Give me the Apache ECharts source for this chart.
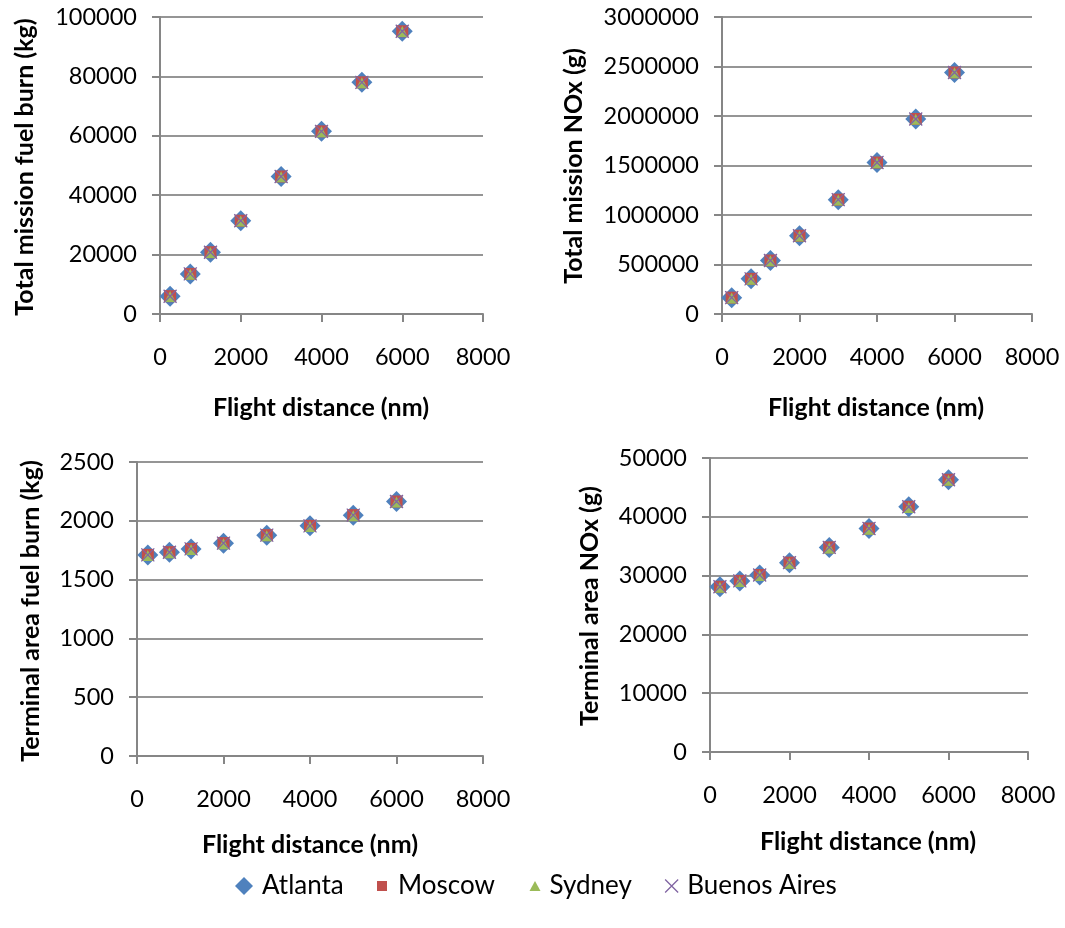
<!DOCTYPE html>
<html>
<head>
<meta charset="utf-8">
<script src="https://cdn.jsdelivr.net/npm/echarts@6/dist/echarts.min.js"></script>
<style>
  html, body { margin: 0; padding: 0; background: #fff; }
  #chart { width: 1065px; height: 928px; }
</style>
</head>
<body>
<div id="chart"></div>
<script>
// Flight distances (nm) shared by every panel
const distances = [250, 750, 1250, 2000, 3000, 4000, 5000, 6000];

// Per-airport results; the four airports sit almost on top of each other
const cities = ['Atlanta', 'Moscow', 'Sydney', 'Buenos Aires'];

const missionFuel = {
  'Atlanta':      [6000, 13500, 20800, 31400, 46300, 61500, 78000, 95200],
  'Moscow':       [6000, 13500, 20800, 31400, 46300, 61500, 78000, 95200],
  'Sydney':       [5900, 13400, 20700, 31300, 46200, 61400, 77900, 95100],
  'Buenos Aires': [6000, 13500, 20800, 31400, 46300, 61500, 78000, 95200]
};
const missionNOx = {
  'Atlanta':      [165000, 355000, 540000, 790000, 1155000, 1530000, 1970000, 2440000],
  'Moscow':       [165000, 355000, 540000, 790000, 1155000, 1530000, 1970000, 2440000],
  'Sydney':       [162000, 352000, 537000, 787000, 1152000, 1527000, 1967000, 2437000],
  'Buenos Aires': [165000, 355000, 540000, 790000, 1155000, 1530000, 1970000, 2440000]
};
const terminalFuel = {
  'Atlanta':      [1710, 1733, 1761, 1810, 1878, 1957, 2048, 2164],
  'Moscow':       [1710, 1733, 1761, 1810, 1878, 1957, 2048, 2164],
  'Sydney':       [1705, 1728, 1756, 1805, 1873, 1952, 2043, 2159],
  'Buenos Aires': [1710, 1733, 1761, 1810, 1878, 1957, 2048, 2164]
};
const terminalNOx = {
  'Atlanta':      [28100, 29100, 30100, 32200, 34800, 38000, 41700, 46300],
  'Moscow':       [28100, 29100, 30100, 32200, 34800, 38000, 41700, 46300],
  'Sydney':       [28000, 29000, 30000, 32100, 34700, 37900, 41600, 46200],
  'Buenos Aires': [28100, 29100, 30100, 32200, 34800, 38000, 41700, 46300]
};

// Axis titles
const yTitles = ['Total mission fuel burn (kg)', 'Total mission NOx (g)',
                 'Terminal area fuel burn (kg)', 'Terminal area NOx (g)'];
const xTitle = 'Flight distance (nm)';

// Y axis ranges [max, interval]
const yRanges = [[100000, 20000], [3000000, 500000], [2500, 500], [50000, 10000]];

const panels = [missionFuel, missionNOx, terminalFuel, terminalNOx];

// Layout of the four plot areas
const grids = [
  { left: 160, top: 17,  width: 323, height: 297 },
  { left: 722, top: 17,  width: 310, height: 297 },
  { left: 137, top: 462, width: 346, height: 294 },
  { left: 710, top: 458, width: 318, height: 294 }
];

const FONT = 'Lato, "Open Sans", sans-serif';
const AXIS_GREY = '#868686';
const GRID_GREY = '#959595';

const colors = {
  'Atlanta': '#4F81BD',
  'Moscow': '#C0504D',
  'Sydney': '#9BBB59',
  'Buenos Aires': '#8064A2'
};
const CROSS = 'path://M0,0L10,10M10,0L0,10';
const symbolFor = {
  'Atlanta':      { symbol: 'diamond',  size: 21 },
  'Moscow':       { symbol: 'rect',     size: 12 },
  'Sydney':       { symbol: 'triangle', size: 11 },
  'Buenos Aires': { symbol: CROSS,      size: 13 }
};

const plain = v => String(v);

const markStyle = city => city === 'Buenos Aires'
  ? { color: 'rgba(0,0,0,0)', borderColor: colors[city], borderWidth: 1.3, opacity: 1 }
  : { color: colors[city], opacity: 1 };

const xAxes = grids.map((g, i) => ({
  type: 'value', gridIndex: i, min: 0, max: 8000, interval: 2000,
  axisLine: { show: true, onZero: false, lineStyle: { color: AXIS_GREY, width: 2 } },
  axisTick: { show: true, length: 8, lineStyle: { color: AXIS_GREY, width: 2 } },
  axisLabel: { color: '#000', fontFamily: FONT, fontSize: 23.5, margin: 31, formatter: plain },
  splitLine: { show: false }
}));

const yAxes = grids.map((g, i) => ({
  type: 'value', gridIndex: i, min: 0, max: yRanges[i][0], interval: yRanges[i][1],
  axisLine: { show: true, onZero: false, lineStyle: { color: AXIS_GREY, width: 2 } },
  axisTick: { show: true, length: 8, lineStyle: { color: AXIS_GREY, width: 2 } },
  axisLabel: { color: '#000', fontFamily: FONT, fontSize: 23.5, margin: 23, formatter: plain },
  splitLine: { show: true, lineStyle: { color: GRID_GREY, width: 2 } }
}));

const series = [];
panels.forEach((panel, p) => {
  cities.forEach((city, c) => {
    const s = symbolFor[city];
    series.push({
      name: city,
      type: 'scatter',
      xAxisIndex: p, yAxisIndex: p,
      symbol: s.symbol,
      symbolSize: s.size,
      z: 2 + c,
      itemStyle: markStyle(city),
      emphasis: { disabled: true },
      data: distances.map((d, k) => [d, panel[city][k]])
    });
  });
});

// Axis titles drawn as text centred on their positions
const yTitlePos = [[25, 167], [574, 166], [31, 611], [590, 606]];
const xTitlePos = [[321, 408], [876, 408], [310, 845], [868, 842]];
const TITLE_FONT = 'bold 25px ' + FONT;
const graphic = [];
yTitles.forEach((t, i) => {
  graphic.push({
    type: 'text', x: yTitlePos[i][0], y: yTitlePos[i][1], rotation: Math.PI / 2,
    style: { text: t, font: TITLE_FONT, fill: '#000',
             textAlign: 'center', textVerticalAlign: 'middle' }
  });
});
xTitlePos.forEach(pos => {
  graphic.push({
    type: 'text', x: pos[0], y: pos[1],
    style: { text: xTitle, font: TITLE_FONT, fill: '#000',
             textAlign: 'center', textVerticalAlign: 'middle' }
  });
});

// One legend block per airport so each key symbol keeps its own size
const legendLayout = [
  { name: 'Atlanta',      left: 235,   icon: 'diamond',  w: 18, h: 18, pad: 4 },
  { name: 'Moscow',       left: 377,   icon: 'rect',     w: 10, h: 10, pad: 6 },
  { name: 'Sydney',       left: 529.5, icon: 'triangle', w: 11, h: 10, pad: 4 },
  { name: 'Buenos Aires', left: 664.5, icon: CROSS,      w: 13, h: 13, pad: 4 }
];
const legend = legendLayout.map(l => ({
  data: [{ name: l.name, icon: l.icon, itemStyle: markStyle(l.name) }],
  left: l.left, top: 873, padding: 0,
  itemWidth: l.w, itemHeight: l.h, itemGap: 0,
  selectedMode: false,
  textStyle: { color: '#000', fontFamily: FONT, fontSize: 26, padding: [0, 0, 0, l.pad] }
}));

const chart = echarts.init(document.getElementById('chart'), null, { renderer: 'canvas' });
chart.setOption({
  backgroundColor: '#fff',
  animation: false,
  grid: grids.map(g => Object.assign({ containLabel: false }, g)),
  xAxis: xAxes,
  yAxis: yAxes,
  legend: legend,
  graphic: graphic,
  series: series
});
</script>
</body>
</html>
